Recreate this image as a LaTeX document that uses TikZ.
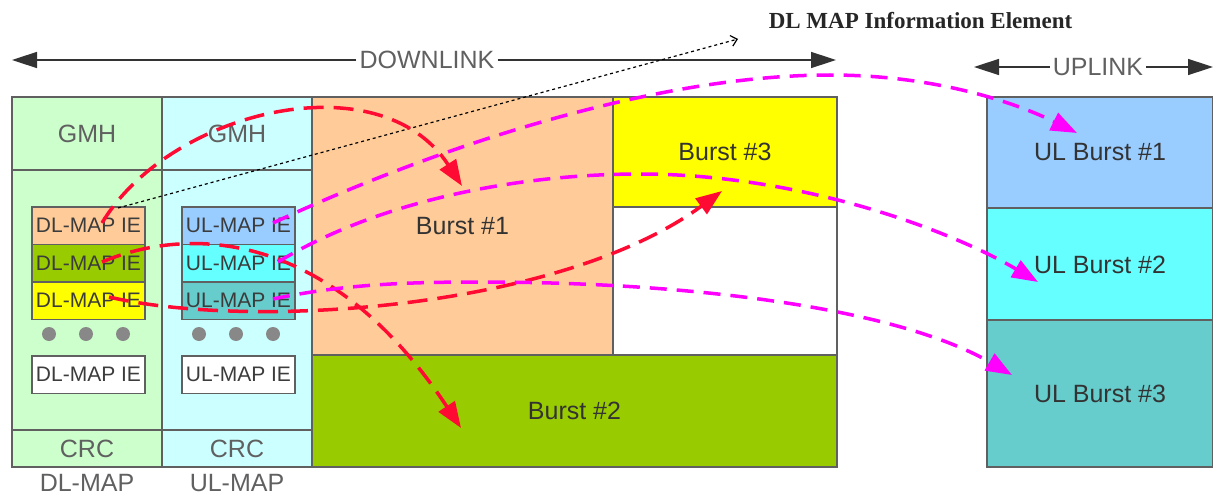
\documentclass[tikz,border=0pt]{standalone}
\usepackage{fontspec}
\setmainfont{Liberation Sans}
\newfontfamily\serifface{Liberation Serif}
\usetikzlibrary{arrows.meta}

\definecolor{framegray}{HTML}{606060}
\definecolor{dlgreen}{HTML}{CCFFCC}
\definecolor{ulcyan}{HTML}{CCFFFF}
\definecolor{peach}{HTML}{FFCC99}
\definecolor{olivegreen}{HTML}{99CC00}
\definecolor{brightyellow}{HTML}{FFFF00}
\definecolor{skyblue}{HTML}{99CCFF}
\definecolor{aquacell}{HTML}{66FFFF}
\definecolor{tealcell}{HTML}{66CCCC}
\definecolor{redarrow}{HTML}{FF0A32}
\definecolor{magarrow}{HTML}{FF00FF}
\definecolor{labelgray}{HTML}{606060}
\definecolor{textdark}{HTML}{333333}
\definecolor{dotgray}{HTML}{888888}

\tikzset{
  cell/.style={draw=framegray, line width=1.5pt, inner sep=0pt,
    font=\fontsize{25}{30}\selectfont, text=textdark},
  gmhcell/.style={cell, text=labelgray},
  iecell/.style={draw=framegray, line width=1.5pt, inner sep=0pt,
    minimum width=113pt, minimum height=37.5pt,
    font=\fontsize{21}{24}\selectfont, text=textdark!80!framegray},
  dotmark/.style={circle, fill=dotgray, inner sep=0pt, minimum size=14pt},
  caption/.style={font=\fontsize{25}{30}\selectfont, text=labelgray, inner sep=3pt},
  spanline/.style={line width=1.5pt, draw=black!80},
  spantip/.style={spanline, -{Triangle[length=25pt,width=16pt]}},
  dlarrow/.style={draw=redarrow, line width=3.5pt, dash pattern=on 20pt off 10pt,
    -{Triangle[length=26pt,width=19pt]}},
  ularrow/.style={draw=magarrow, line width=3.5pt, dash pattern=on 17pt off 10pt,
    -{Triangle[length=26pt,width=19pt]}},
  ieref/.style={draw=black, line width=1.2pt, dash pattern=on 3pt off 3pt,
    -{Straight Barb[length=6pt,width=11pt]}}
}

\begin{document}
\begin{tikzpicture}[x=1pt, y=-1pt]
\useasboundingbox (0,0) rectangle (1213,495);

% ---------- DL-MAP column ----------
\node[gmhcell, fill=dlgreen, minimum width=150pt, minimum height=73pt] (dlgmh) at (87,133.5) {GMH};
\node[cell, fill=dlgreen, minimum width=150pt, minimum height=260pt] (dlbody) at (87,300) {};
\node[gmhcell, fill=dlgreen, minimum width=150pt, minimum height=37pt] (dlcrc) at (87,448.5) {CRC};
\node[iecell, fill=peach] (dlie1) at (88.5,225.5) {DL-MAP IE};
\node[iecell, fill=olivegreen] (dlie2) at (88.5,263) {DL-MAP IE};
\node[iecell, fill=brightyellow] (dlie3) at (88.5,300.5) {DL-MAP IE};
\node[dotmark] (dldot1) at (49,334) {};
\node[dotmark] (dldot2) at (86,334) {};
\node[dotmark] (dldot3) at (123,334) {};
\node[iecell, fill=white] (dlie4) at (88.5,374.5) {DL-MAP IE};
\node[caption] (dllabel) at (87,483) {DL-MAP};

% ---------- UL-MAP column ----------
\node[gmhcell, fill=ulcyan, minimum width=150pt, minimum height=73pt] (ulgmh) at (237,133.5) {GMH};
\node[cell, fill=ulcyan, minimum width=150pt, minimum height=260pt] (ulbody) at (237,300) {};
\node[gmhcell, fill=ulcyan, minimum width=150pt, minimum height=37pt] (ulcrc) at (237,448.5) {CRC};
\node[iecell, fill=skyblue] (ulie1) at (238.5,225.5) {UL-MAP IE};
\node[iecell, fill=aquacell] (ulie2) at (238.5,263) {UL-MAP IE};
\node[iecell, fill=tealcell] (ulie3) at (238.5,300.5) {UL-MAP IE};
\node[dotmark] (uldot1) at (199,334) {};
\node[dotmark] (uldot2) at (236,334) {};
\node[dotmark] (uldot3) at (273,334) {};
\node[iecell, fill=white] (ulie4) at (238.5,374.5) {UL-MAP IE};
\node[caption] (ullabel) at (237,483) {UL-MAP};

% ---------- downlink bursts ----------
\node[cell, fill=peach, minimum width=301pt, minimum height=258pt] (burst1) at (462.5,226) {Burst \#1};
\node[cell, fill=brightyellow, minimum width=224pt, minimum height=110pt] (burst3) at (725,152) {Burst \#3};
\node[cell, fill=white, minimum width=224pt, minimum height=148pt] (spare) at (725,281) {};
\node[cell, fill=olivegreen, minimum width=525pt, minimum height=112pt] (burst2) at (574.5,411) {Burst \#2};

% ---------- uplink bursts ----------
\node[cell, fill=skyblue, minimum width=226pt, minimum height=111pt] (ulb1) at (1100,152.5) {UL Burst \#1};
\node[cell, fill=aquacell, minimum width=226pt, minimum height=113pt] (ulb2) at (1100,264.5) {UL Burst \#2};
\node[cell, fill=tealcell, minimum width=226pt, minimum height=147pt] (ulb3) at (1100,393.5) {UL Burst \#3};

% ---------- span arrows ----------
\node[caption] (downtext) at (427,60) {DOWNLINK};
\coordinate (downL) at (12,60);
\coordinate (downR) at (836,60);
\draw[spantip] (downtext.west) -- (downL);
\draw[spantip] (downtext.east) -- (downR);

\node[caption] (uptext) at (1098,67) {UPLINK};
\coordinate (upL) at (974,67);
\coordinate (upR) at (1213,67);
\draw[spantip] (uptext.west) -- (upL);
\draw[spantip] (uptext.east) -- (upR);

% ---------- information element callout ----------
\node[font=\serifface\bfseries\fontsize{23}{28}\selectfont, text=black!85] (ietitle) at (920.5,21) {DL MAP Information Element};
\coordinate (iestart) at (118,208);
\coordinate (ieend) at (738,39);
\draw[ieref] (iestart) -- (ieend);

% ---------- DL-MAP IE to burst mappings ----------
\coordinate (r1s) at (102,223);
\coordinate (r1e) at (462,186);
\coordinate (r2s) at (102,262);
\coordinate (r2e) at (461,428);
\coordinate (r3s) at (109,297);
\coordinate (r3e) at (722,191);
\draw[dlarrow] (r1s) .. controls (170,110) and (380,60) .. (r1e);
\draw[dlarrow] (r2s) .. controls (190,225) and (330,230) .. (r2e);
\draw[dlarrow] (r3s) .. controls (250,330) and (560,310) .. (r3e);

% ---------- UL-MAP IE to uplink burst mappings ----------
\coordinate (m1s) at (273,223);
\coordinate (m1e) at (1077,133);
\coordinate (m2s) at (278,262);
\coordinate (m2e) at (1038,282);
\coordinate (m3s) at (273,299);
\coordinate (m3e) at (1012,375);
\draw[ularrow] (m1s) .. controls (430,150) and (650,75) .. (830,75)
                     .. controls (930,75) and (1010,100) .. (m1e);
\draw[ularrow] (m2s) .. controls (380,200) and (520,174) .. (640,174)
                     .. controls (800,174) and (950,230) .. (m2e);
\draw[ularrow] (m3s) .. controls (340,285) and (400,282) .. (480,282)
                     .. controls (700,282) and (900,310) .. (m3e);
\end{tikzpicture}
\end{document}
